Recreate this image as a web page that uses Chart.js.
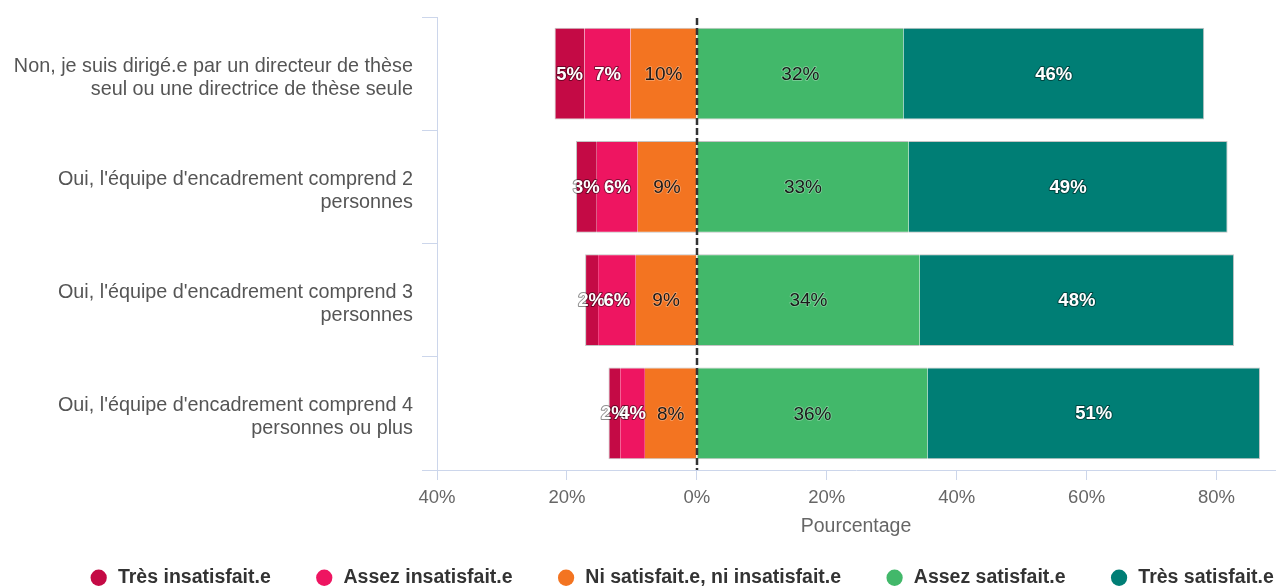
<!DOCTYPE html>
<html><head><meta charset="utf-8">
<script src="https://cdn.jsdelivr.net/npm/chart.js@4"></script>
<style>html,body{margin:0;padding:0;background:#fff}</style>
</head><body>
<canvas id="c" width="1282" height="588"></canvas>
<script>
const categories = [
  ["Non, je suis dirigé.e par un directeur de thèse", "seul ou une directrice de thèse seule"],
  ["Oui, l'équipe d'encadrement comprend 2", "personnes"],
  ["Oui, l'équipe d'encadrement comprend 3", "personnes"],
  ["Oui, l'équipe d'encadrement comprend 4", "personnes ou plus"]
];
const seriesNames = ["Très insatisfait.e", "Assez insatisfait.e", "Ni satisfait.e, ni insatisfait.e", "Assez satisfait.e", "Très satisfait.e"];
const tresInsatisfait = [4.6, 3.2, 2.0, 1.8];
const assezInsatisfait = [7.1, 6.3, 5.8, 3.8];
const niSatisfaitNiInsatisfait = [10.2, 9.1, 9.4, 8.0];
const assezSatisfait = [31.8, 32.6, 34.3, 35.5];
const tresSatisfait = [46.3, 49.1, 48.4, 51.2];
const xTicks = [-40, -20, 0, 20, 40, 60, 80];

const colors = ['#C40A45', '#EE1561', '#F37421', '#42B86A', '#007E75'];
const neg = a => a.map(v => -v);
const lightBorder = '#c4c4c4';
const FONT = '"Liberation Sans", Arial, sans-serif';

const datasets = [
  {label: seriesNames[0], data: neg(tresInsatisfait), order: 3, borderWidth: {top:1,bottom:1,left:1,right:0}},
  {label: seriesNames[1], data: neg(assezInsatisfait), order: 2, borderWidth: {top:1,bottom:1,left:0,right:0}},
  {label: seriesNames[2], data: neg(niSatisfaitNiInsatisfait), order: 1, borderWidth: {top:1,bottom:1,left:0,right:0}},
  {label: seriesNames[3], data: assezSatisfait, order: 4, borderWidth: {top:1,bottom:1,left:0,right:0}},
  {label: seriesNames[4], data: tresSatisfait, order: 5, borderWidth: {top:1,bottom:1,left:0,right:1}}
].map((d, i) => Object.assign(d, {
  backgroundColor: colors[i],
  borderColor: lightBorder,
  borderSkipped: false,
  categoryPercentage: 0.9,
  barPercentage: 0.9
}));

const whiteLabel = [true, true, false, false, true];

const dataLabelPlugin = {
  id: 'dataLabels',
  afterDatasetsDraw(chart) {
    const ctx = chart.ctx;
    ctx.save();
    ctx.textAlign = 'center';
    ctx.textBaseline = 'middle';
    chart.data.datasets.forEach((ds, di) => {
      const meta = chart.getDatasetMeta(di);
      meta.data.forEach((el, i) => {
        const v = ds.data[i];
        const txt = Math.round(Math.abs(v)) + '%';
        const cx = (el.x + el.base) / 2;
        const cy = el.y + 1;
        ctx.lineJoin = 'round';
        if (whiteLabel[di]) {
          ctx.font = 'bold 18.5px ' + FONT;
          ctx.lineWidth = 2;
          ctx.strokeStyle = 'rgba(0,0,0,0.45)';
          ctx.strokeText(txt, cx, cy);
          ctx.fillStyle = '#ffffff';
          ctx.fillText(txt, cx, cy);
        } else {
          ctx.font = '19px ' + FONT;
          ctx.lineWidth = 1.5;
          ctx.strokeStyle = 'rgba(255,255,255,0.35)';
          ctx.strokeText(txt, cx, cy);
          ctx.fillStyle = '#1a1a1a';
          ctx.fillText(txt, cx, cy);
        }
      });
    });
    ctx.restore();
  }
};

const zeroLinePlugin = {
  id: 'zeroLine',
  afterDatasetsDraw(chart) {
    const {ctx, chartArea, scales} = chart;
    const x = Math.round(scales.x.getPixelForValue(0));
    ctx.save();
    ctx.strokeStyle = '#333333';
    ctx.lineWidth = 2.5;
    ctx.setLineDash([7, 3]);
    ctx.beginPath();
    ctx.moveTo(x, chartArea.top + 1);
    ctx.lineTo(x, chartArea.bottom);
    ctx.stroke();
    ctx.restore();
  }
};

const LEGEND_H = 59;
const LEGEND_SHIFT_X = 44;
const LEGEND_SHIFT_Y = -5;
const legendFitPlugin = {
  id: 'legendFit',
  beforeLayout(chart) {
    const lg = chart.legend;
    if (lg && !lg._patched) {
      const origFit = lg.fit;
      lg.fit = function () { origFit.call(this); this.height = LEGEND_H; };
      const origDraw = lg.draw;
      lg.draw = function () {
        const c = this.ctx;
        const b = this.bottom;
        this.bottom = b + 20;
        c.save();
        c.translate(LEGEND_SHIFT_X, LEGEND_SHIFT_Y);
        origDraw.call(this);
        c.restore();
        this.bottom = b;
      };
      lg._patched = true;
    }
  }
};

new Chart(document.getElementById('c'), {
  type: 'bar',
  data: {labels: categories, datasets},
  plugins: [legendFitPlugin, dataLabelPlugin, zeroLinePlugin],
  options: {
    indexAxis: 'y',
    responsive: false,
    animation: false,
    layout: {padding: {top: 17, left: 0, right: 7, bottom: 0}},
    scales: {
      x: {
        type: 'linear',
        stacked: true,
        min: -40,
        max: 89,
        afterBuildTicks(scale) { scale.ticks = xTicks.map(v => ({value: v})); },
        afterFit(scale) { scale.height = 59; scale.paddingLeft = 0; scale.paddingRight = 0; },
        ticks: {
          includeBounds: false,
          callback: v => Math.abs(v) + '%',
          color: '#666666',
          font: {family: FONT, size: 18.5},
          padding: 7,
          maxRotation: 0
        },
        grid: {drawOnChartArea: false, drawTicks: true, tickLength: 10, color: '#ccd6eb'},
        border: {display: true, color: '#ccd6eb', width: 1},
        title: {
          display: true,
          text: 'Pourcentage',
          color: '#666666',
          font: {family: FONT, size: 19.5, lineHeight: 0.2},
          padding: 0
        }
      },
      y: {
        type: 'category',
        stacked: true,
        afterFit(scale) { scale.width = 437; scale.paddingTop = 0; scale.paddingBottom = 0; },
        ticks: {
          color: '#555555',
          font: {family: FONT, size: 19.8, lineHeight: 1.16},
          padding: 9,
          labelOffset: 4
        },
        grid: {offset: true, drawOnChartArea: false, drawTicks: true, tickLength: 15, color: '#ccd6eb'},
        border: {display: true, color: '#ccd6eb', width: 1}
      }
    },
    plugins: {
      tooltip: {enabled: false},
      title: {display: false},
      legend: {
        position: 'bottom',
        labels: {
          usePointStyle: true,
          pointStyle: 'circle',
          boxWidth: 19,
          boxHeight: 11.5,
          padding: 44,
          color: '#333333',
          font: {family: FONT, size: 19.5, weight: 'bold'},
          generateLabels(chart) {
            return Chart.defaults.plugins.legend.labels.generateLabels(chart).map(it => Object.assign(it, {lineWidth: 0, strokeStyle: 'rgba(0,0,0,0)'}));
          },
          sort: (a, b) => a.datasetIndex - b.datasetIndex
        }
      }
    }
  }
});
</script>
</body></html>
